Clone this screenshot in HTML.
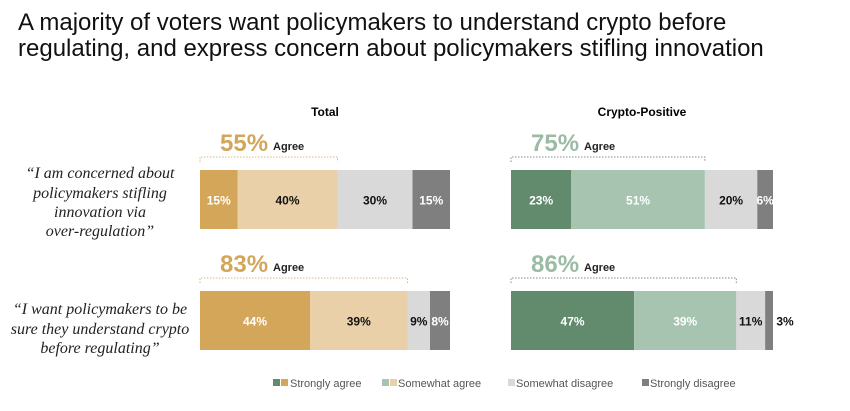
<!DOCTYPE html>
<html><head><meta charset="utf-8"><style>
body{margin:0;background:#fff;width:850px;height:406px;overflow:hidden;font-family:"Liberation Sans",sans-serif}
</style></head><body>
<svg id="c" width="850" height="406" xmlns="http://www.w3.org/2000/svg">
<text x="18" y="30" font-size="24" fill="#111">A majority of voters want policymakers to understand crypto before</text>
<text x="18" y="56" font-size="24" fill="#111">regulating, and express concern about policymakers stifling innovation</text>
<text x="325" y="116" font-size="12" font-weight="bold" text-anchor="middle">Total</text>
<text x="642" y="116" font-size="12" font-weight="bold" text-anchor="middle">Crypto-Positive</text>
<g font-family="Liberation Serif,serif" font-style="italic" font-size="16" fill="#222" text-anchor="middle">
<text x="100" y="178">“I am concerned about</text>
<text x="100" y="198">policymakers stifling</text>
<text x="100" y="217">innovation via</text>
<text x="100" y="236">over-regulation”</text>
<text x="100" y="314">“I want policymakers to be</text>
<text x="100" y="334">sure they understand crypto</text>
<text x="100" y="353">before regulating”</text>
</g>
<g id="bars"></g>
<g font-size="11" fill="#555">
<rect x="273" y="379" width="7" height="7" fill="#628B6E"/>
<rect x="281" y="379" width="7" height="7" fill="#D4A65A"/>
<text x="290" y="387">Strongly agree</text>
<rect x="382" y="379" width="7" height="7" fill="#A6C4B0"/>
<rect x="390" y="379" width="7" height="7" fill="#E9D0A8"/>
<text x="398" y="387">Somewhat agree</text>
<rect x="508" y="379" width="7" height="7" fill="#D9D9D9"/>
<text x="516" y="387">Somewhat disagree</text>
<rect x="642" y="379" width="7" height="7" fill="#7F7F7F"/>
<text x="650" y="387">Strongly disagree</text>
</g>
</svg>
<script>
const totalValues = [[15,40,30,15],[44,39,9,8]];
const cryptoValues = [[23,51,20,6],[47,39,11,3]];
const totalAgree = [55,83];
const cryptoAgree = [75,86];
const NS="http://www.w3.org/2000/svg";
const g=document.getElementById('bars');
const panels=[
 {name:'total',x0:200,w:250,vals:totalValues,agree:totalAgree,colors:['#D4A65A','#E9D0A8','#D9D9D9','#7F7F7F'],txt:['#fff','#111','#111','#fff'],big:'#D4A65A',br:'#D9B980'},
 {name:'crypto',x0:511,w:262,vals:cryptoValues,agree:cryptoAgree,colors:['#628B6E','#A6C4B0','#D9D9D9','#7F7F7F'],txt:['#fff','#fff','#111','#fff'],big:'#9BBBA5',br:'#888'}
];
const rowY=[170,291], barH=59;
const segNames=['strongly-agree','somewhat-agree','somewhat-disagree','strongly-disagree'];
function mk(tag,attrs){const e=document.createElementNS(NS,tag);for(const k in attrs)e.setAttribute(k,attrs[k]);g.appendChild(e);return e;}
panels.forEach(p=>{
 const sx=v=>v/100*p.w;
 p.vals.forEach((row,ri)=>{
  const y=rowY[ri];let x=p.x0;
  row.forEach((v,si)=>{
   const r=mk('rect',{x:x,y:y,width:sx(v),height:barH,fill:p.colors[si]});
   
   
   let tx=x+sx(v)/2, col=p.txt[si];
   if(v<5){tx=x+sx(v)+12;col='#111';}
   const t=mk('text',{x:tx,y:y+barH/2+5,'font-size':12,'font-weight':'bold','text-anchor':'middle',fill:col});
   t.textContent=v+'%';
   
   
   x+=sx(v);
  });
  const aw=sx(row[0]+row[1]);
  const by=y-13;
  const b=mk('path',{d:`M${p.x0},${y-8}V${by}H${p.x0+aw}V${y-8}`,fill:'none',stroke:p.br,'stroke-dasharray':'1.5,1.5','stroke-width':1});
  
  
  const big=mk('text',{x:p.x0+20,y:y-19,'font-size':24,'font-weight':'bold',fill:p.big});
  big.textContent=p.agree[ri]+'%';
  
  
  const a=mk('text',{x:p.x0+73,y:y-20,'font-size':11,'font-weight':'bold',fill:'#222'});
  a.textContent='Agree';
  
  
 });
});
</script>
</body></html>
